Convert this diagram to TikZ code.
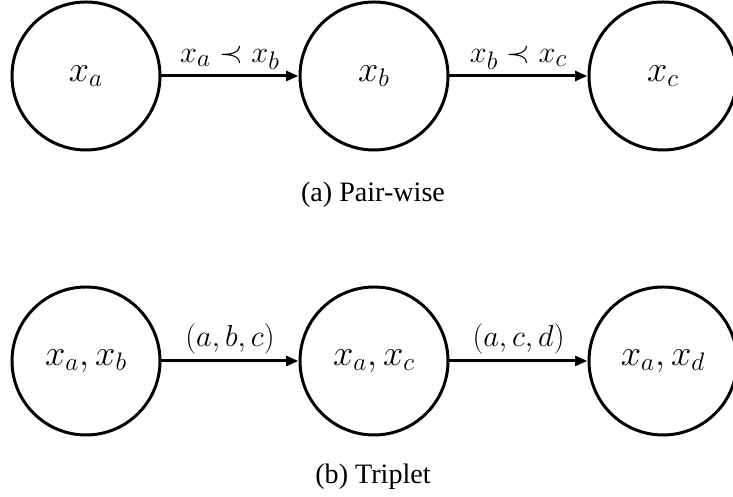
\documentclass[tikz,border=0pt]{standalone}
\usepackage[no-math]{fontspec}
\setmainfont{Liberation Serif}
\usepackage{amsmath, amssymb}
\usepackage{tikz}
\usetikzlibrary{arrows.meta}

\begin{document}
\begin{tikzpicture}[
        state/.style={draw, circle, line width=1.7pt, minimum size=2.96cm, inner sep=0pt, font=\fontsize{20}{24}\selectfont},
        link/.style={line width=1.7pt, -{Triangle[length=7pt, width=5.5pt]}},
        linklabel/.style={midway, above, inner sep=3pt, font=\fontsize{19}{23}\selectfont},
        caption/.style={font=\fontsize{16}{19}\selectfont}
    ]
    \useasboundingbox (0,0) rectangle (14.66,9.94);

    % Pair-wise chain
    \node[state] (pa) at (1.72,8.42) {$x_a$};
    \node[state] (pb) at (7.48,8.42) {$x_b$};
    \node[state] (pc) at (13.26,8.42) {$x_c$};
    \draw[link] (pa) -- (pb) node[linklabel] {$x_a \prec x_b$};
    \draw[link] (pb) -- (pc) node[linklabel] {$x_b \prec x_c$};
    \node[caption] (capa) at (7.46,6.04) {(a) Pair-wise};

    % Triplet chain
    \node[state] (ta) at (1.72,2.72) {$x_a, x_b$};
    \node[state] (tb) at (7.48,2.72) {$x_a, x_c$};
    \node[state] (tc) at (13.26,2.72) {$x_a, x_d$};
    \draw[link] (ta) -- (tb) node[linklabel] {$(a, b, c)$};
    \draw[link] (tb) -- (tc) node[linklabel] {$(a, c, d)$};
    \node[caption] (capb) at (7.46,0.40) {(b) Triplet};
\end{tikzpicture}
\end{document}
